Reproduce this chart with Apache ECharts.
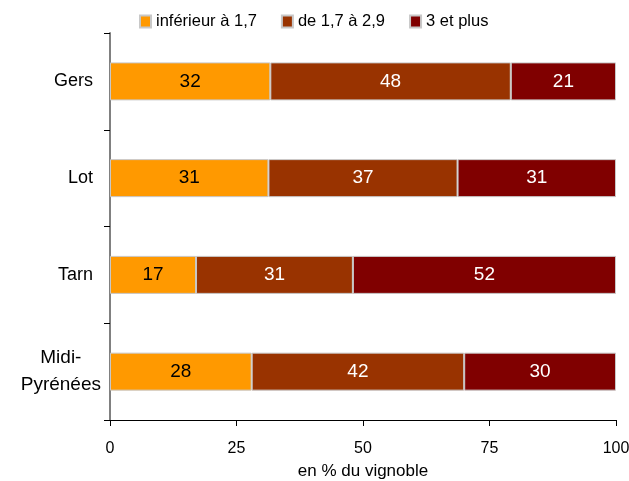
<!DOCTYPE html>
<html>
<head>
<meta charset="utf-8">
<script src="https://cdn.jsdelivr.net/npm/echarts@6/dist/echarts.min.js"></script>
<style>html,body{margin:0;padding:0;background:#fff}#c{width:629px;height:481px}</style>
</head>
<body>
<div id="c"></div>
<script>
// Répartition du vignoble par classe de densité (en % du vignoble)
const regions = ['Gers', 'Lot', 'Tarn', 'Midi-Pyrénées'];
const seriesNames = ['inférieur à 1,7', 'de 1,7 à 2,9', '3 et plus'];
const inf17 = [32, 31, 17, 28];
const de17a29 = [48, 37, 31, 42];
const plus3 = [21, 31, 52, 30];
const xTicks = [0, 25, 50, 75, 100];

const colors = ['#FF9900', '#993300', '#800000'];
const labelColors = ['#000000', '#ffffff', '#ffffff'];
const raw = [inf17, de17a29, plus3];
const totals = regions.map((_, i) => raw.reduce((s, arr) => s + arr[i], 0));

const font = '"Liberation Sans", Arial, sans-serif';

const chart = echarts.init(document.getElementById('c'), null, {renderer: 'canvas'});
chart.setOption({
  animation: false,
  textStyle: {fontFamily: font},
  legend: {
    top: 8,
    left: 134,
    itemWidth: 11,
    itemHeight: 12,
    itemGap: 24,
    icon: 'rect',
    textStyle: {fontSize: 16.5, color: '#000', fontFamily: font},
    data: seriesNames
  },
  grid: {left: 110, right: 13, top: 33, bottom: 61, containLabel: false, outerBoundsMode: 'none'},
  xAxis: {
    type: 'value',
    min: 0,
    max: 100,
    interval: 25,
    name: 'en % du vignoble',
    nameLocation: 'middle',
    nameGap: 43,
    nameTextStyle: {fontSize: 17, color: '#000', fontFamily: font},
    axisLine: {show: true, lineStyle: {color: '#000', width: 1}},
    axisTick: {show: true, length: 6, lineStyle: {color: '#000'}},
    axisLabel: {
      fontSize: 16, color: '#000', margin: 21, fontFamily: font,
      formatter: v => xTicks.includes(v) ? String(v) : ''
    },
    splitLine: {show: false}
  },
  yAxis: {
    type: 'category',
    inverse: true,
    data: regions,
    axisLine: {show: true, lineStyle: {color: '#808080', width: 2}},
    axisTick: {show: true, length: 6, lineStyle: {color: '#000'}},
    axisLabel: {
      margin: 9,
      color: '#000',
      fontFamily: font,
      formatter: v => v === 'Midi-Pyrénées' ? '{big|Midi-}\n{big|Pyrénées}' : '{n|' + v + '}',
      rich: {
        n: {fontSize: 18, fontFamily: font, color: '#000', padding: [0, 8, 0, 0]},
        big: {fontSize: 19, fontFamily: font, color: '#000', lineHeight: 27, align: 'center'}
      }
    }
  },
  series: raw.map((arr, k) => ({
    name: seriesNames[k],
    type: 'bar',
    stack: 'total',
    barWidth: 38,
    itemStyle: {color: colors[k], borderColor: '#c8c8c8', borderWidth: 1},
    label: {
      show: true,
      position: 'inside',
      fontSize: 19,
      fontFamily: font,
      color: labelColors[k],
      formatter: p => String(arr[p.dataIndex])
    },
    // share of each class within the region's total
    data: arr.map((v, i) => v / totals[i] * 100)
  }))
});
</script>
</body>
</html>
